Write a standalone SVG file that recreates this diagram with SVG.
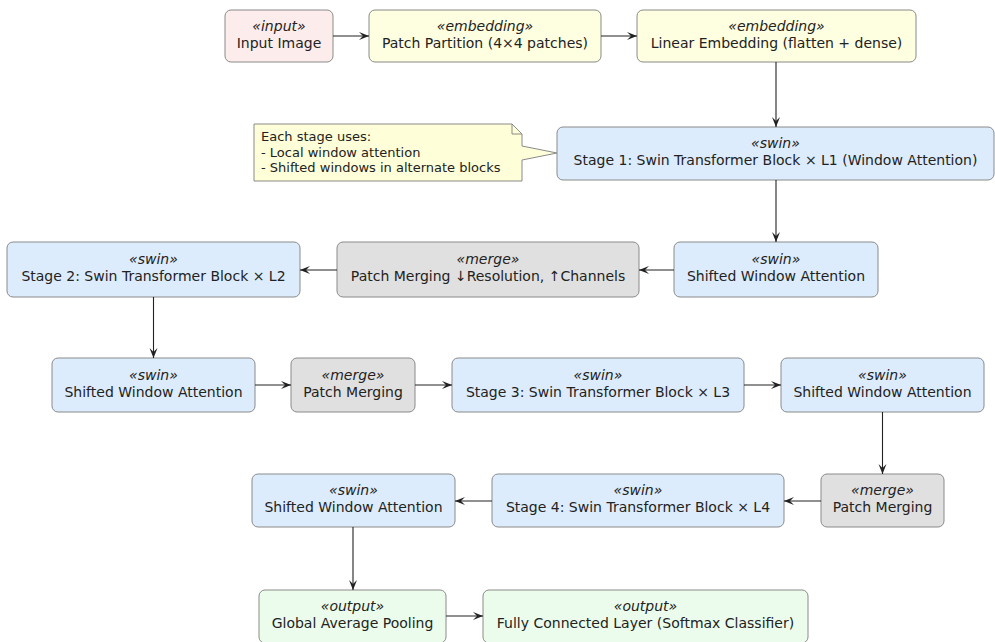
<svg xmlns="http://www.w3.org/2000/svg" width="995" height="642" viewBox="0 0 995 642">
  <style>
    .box { stroke: #8a8a8a; stroke-width: 1; }
    .input { fill: #fdecec; }
    .embedding { fill: #fefee0; }
    .swin { fill: #ddecfc; }
    .merge { fill: #e0e0e0; }
    .output { fill: #ecfcec; }
    .st { font-family: "DejaVu Sans", sans-serif; font-size: 14px; font-style: italic; fill: #222; text-anchor: middle; }
    .nm { font-family: "DejaVu Sans", sans-serif; font-size: 14px; fill: #222; text-anchor: middle; }
    .note { fill: #fefed8; stroke: #8a8a8a; stroke-width: 1; }
    .nt { font-family: "DejaVu Sans", sans-serif; font-size: 13px; fill: #222; }
    .edge { stroke: #222; stroke-width: 1.1; fill: none; marker-end: url(#arrow); }
  </style>
  <defs>
    <marker id="arrow" viewBox="0 0 10 10" refX="10" refY="5" markerWidth="10" markerHeight="10" markerUnits="userSpaceOnUse" orient="auto">
      <path d="M0,1 L10,5 L0,9 L4,5 Z" fill="#222"/>
    </marker>
  </defs>

  <rect width="995" height="642" fill="#ffffff"/>

  <!-- note attached to stage 1 -->
  <g id="note">
    <path class="note" d="M254,124 H512 L522,134 V146 L557,153 L522,160 V181 H254 Z"/>
    <path d="M512,124 V134 H522" fill="none" stroke="#8a8a8a" stroke-width="1"/>
    <text class="nt" x="261" y="141">Each stage uses:</text>
    <text class="nt" x="261" y="156.5">- Local window attention</text>
    <text class="nt" x="261" y="172">- Shifted windows in alternate blocks</text>
  </g>

  <!-- row 1 -->
  <g id="input_image">
    <rect class="box input" x="225" y="10" width="108" height="52" rx="6"/>
    <text class="st" x="279" y="31">«input»</text>
    <text class="nm" x="279" y="48">Input Image</text>
  </g>
  <g id="patch_partition">
    <rect class="box embedding" x="369" y="10" width="232" height="52" rx="6"/>
    <text class="st" x="485" y="31">«embedding»</text>
    <text class="nm" x="485" y="48">Patch Partition (4×4 patches)</text>
  </g>
  <g id="linear_embedding">
    <rect class="box embedding" x="637" y="10" width="279" height="52" rx="6"/>
    <text class="st" x="776.5" y="31">«embedding»</text>
    <text class="nm" x="776.5" y="48">Linear Embedding (flatten + dense)</text>
  </g>

  <!-- row 2 -->
  <g id="stage1">
    <rect class="box swin" x="557" y="127" width="437" height="53" rx="6"/>
    <text class="st" x="775.5" y="148">«swin»</text>
    <text class="nm" x="775.5" y="165">Stage 1: Swin Transformer Block × L1 (Window Attention)</text>
  </g>

  <!-- row 3 -->
  <g id="stage2">
    <rect class="box swin" x="7" y="242" width="293" height="55" rx="6"/>
    <text class="st" x="153.5" y="264">«swin»</text>
    <text class="nm" x="153.5" y="281">Stage 2: Swin Transformer Block × L2</text>
  </g>
  <g id="merge1">
    <rect class="box merge" x="337" y="242" width="302" height="55" rx="6"/>
    <text class="st" x="488" y="264">«merge»</text>
    <text class="nm" x="488" y="281">Patch Merging ↓Resolution, ↑Channels</text>
  </g>
  <g id="shifted1">
    <rect class="box swin" x="674" y="242" width="204" height="55" rx="6"/>
    <text class="st" x="776" y="264">«swin»</text>
    <text class="nm" x="776" y="281">Shifted Window Attention</text>
  </g>

  <!-- row 4 -->
  <g id="shifted2">
    <rect class="box swin" x="52" y="358" width="203" height="54" rx="6"/>
    <text class="st" x="153.5" y="380">«swin»</text>
    <text class="nm" x="153.5" y="397">Shifted Window Attention</text>
  </g>
  <g id="merge2">
    <rect class="box merge" x="291" y="358" width="124" height="54" rx="6"/>
    <text class="st" x="353" y="380">«merge»</text>
    <text class="nm" x="353" y="397">Patch Merging</text>
  </g>
  <g id="stage3">
    <rect class="box swin" x="452" y="358" width="292" height="54" rx="6"/>
    <text class="st" x="598" y="380">«swin»</text>
    <text class="nm" x="598" y="397">Stage 3: Swin Transformer Block × L3</text>
  </g>
  <g id="shifted3">
    <rect class="box swin" x="781" y="358" width="203" height="54" rx="6"/>
    <text class="st" x="882.5" y="380">«swin»</text>
    <text class="nm" x="882.5" y="397">Shifted Window Attention</text>
  </g>

  <!-- row 5 -->
  <g id="shifted4">
    <rect class="box swin" x="252" y="474" width="203" height="53" rx="6"/>
    <text class="st" x="353.5" y="495">«swin»</text>
    <text class="nm" x="353.5" y="512">Shifted Window Attention</text>
  </g>
  <g id="stage4">
    <rect class="box swin" x="492" y="474" width="292" height="53" rx="6"/>
    <text class="st" x="638" y="495">«swin»</text>
    <text class="nm" x="638" y="512">Stage 4: Swin Transformer Block × L4</text>
  </g>
  <g id="merge3">
    <rect class="box merge" x="821" y="474" width="123" height="53" rx="6"/>
    <text class="st" x="882.5" y="495">«merge»</text>
    <text class="nm" x="882.5" y="512">Patch Merging</text>
  </g>

  <!-- row 6 -->
  <g id="global_pool">
    <rect class="box output" x="259" y="590" width="187" height="53" rx="6"/>
    <text class="st" x="352.5" y="611">«output»</text>
    <text class="nm" x="352.5" y="628">Global Average Pooling</text>
  </g>
  <g id="fc_layer">
    <rect class="box output" x="483" y="590" width="325" height="53" rx="6"/>
    <text class="st" x="645.5" y="611">«output»</text>
    <text class="nm" x="645.5" y="628">Fully Connected Layer (Softmax Classifier)</text>
  </g>

  <!-- connectors -->
  <g id="connectors">
    <line class="edge" x1="333" y1="36" x2="369" y2="36"/>
    <line class="edge" x1="601" y1="36" x2="637" y2="36"/>
    <line class="edge" x1="776" y1="62" x2="776" y2="127"/>
    <line class="edge" x1="776" y1="180" x2="776" y2="242"/>
    <line class="edge" x1="674" y1="270" x2="639" y2="270"/>
    <line class="edge" x1="337" y1="270" x2="300" y2="270"/>
    <line class="edge" x1="153.5" y1="297" x2="153.5" y2="358"/>
    <line class="edge" x1="255" y1="385" x2="291" y2="385"/>
    <line class="edge" x1="415" y1="385" x2="452" y2="385"/>
    <line class="edge" x1="744" y1="385" x2="781" y2="385"/>
    <line class="edge" x1="882.5" y1="412" x2="882.5" y2="474"/>
    <line class="edge" x1="821" y1="501" x2="784" y2="501"/>
    <line class="edge" x1="492" y1="501" x2="455" y2="501"/>
    <line class="edge" x1="353" y1="527" x2="353" y2="590"/>
    <line class="edge" x1="446" y1="616" x2="483" y2="616"/>
  </g>
</svg>
